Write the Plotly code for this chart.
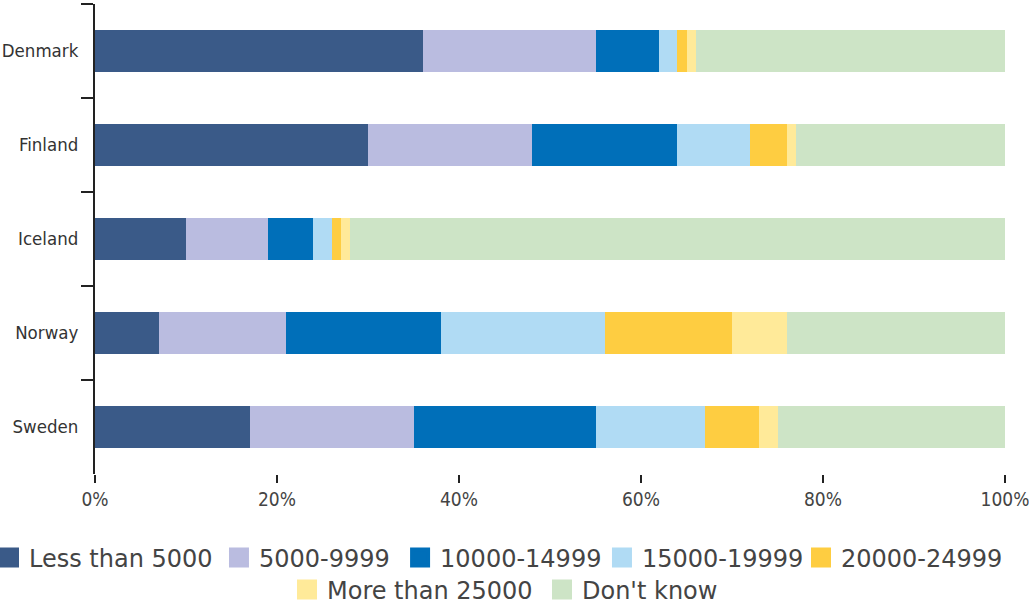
import plotly.graph_objects as go

countries = ["Denmark", "Finland", "Iceland", "Norway", "Sweden"]
series_names = ["Less than 5000", "5000-9999", "10000-14999", "15000-19999",
                "20000-24999", "More than 25000", "Don't know"]
less_than_5000 = [36, 30, 10, 7, 17]
s5000_9999 = [19, 18, 9, 14, 18]
s10000_14999 = [7, 16, 5, 17, 20]
s15000_19999 = [2, 8, 2, 18, 12]
s20000_24999 = [1, 4, 1, 14, 6]
more_than_25000 = [1, 1, 1, 6, 2]
dont_know = [34, 23, 72, 24, 25]
colors = ["#3a5a88", "#babce0", "#006fb9", "#b0dbf4", "#fecd41", "#ffea99", "#cde4c6"]
x_ticks = [0, 20, 40, 60, 80, 100]
x_tick_labels = ["0%", "20%", "40%", "60%", "80%", "100%"]

values = [less_than_5000, s5000_9999, s10000_14999, s15000_19999,
          s20000_24999, more_than_25000, dont_know]

# legend entry placement: box left x (paper fraction for first, container for the rest), row centre y
legend_xref = ["paper", "container", "container", "container", "container", "container", "container"]
legend_x = [-0.1165, 0.2128, 0.3888, 0.5850, 0.7784, 0.2789, 0.5267]
legend_y = [0.0777, 0.0777, 0.0777, 0.0777, 0.0777, 0.0248, 0.0248]

fig = go.Figure()
for name, vals, col in zip(series_names, values, colors):
    fig.add_trace(go.Bar(
        x=vals, y=countries, orientation="h", name=name,
        marker=dict(color=col, line=dict(width=0)), showlegend=False,
    ))

legend_font = dict(family="DejaVu Sans, sans-serif", size=24, color="#444")
layout_legends = {}
for i, (name, col) in enumerate(zip(series_names, colors)):
    key = "legend" if i == 0 else f"legend{i + 1}"
    fig.add_trace(go.Scatter(
        x=[None], y=[None], mode="markers", name=name,
        marker=dict(symbol="square", size=16, color=col, line=dict(width=4, color=col)),
        legend=key,
    ))
    layout_legends[key] = dict(
        orientation="h", xref=legend_xref[i], yref="container",
        x=legend_x[i], xanchor="left", y=legend_y[i], yanchor="middle",
        font=legend_font, itemsizing="trace", bgcolor="rgba(0,0,0,0)",
    )

fig.update_layout(
    barmode="stack",
    bargap=0.56,
    width=1029, height=605,
    margin=dict(l=95, r=24, t=4, b=131, autoexpand=False),
    plot_bgcolor="white", paper_bgcolor="white",
    font=dict(family="DejaVu Sans Condensed, sans-serif", color="#333", size=18.5),
    xaxis=dict(
        range=[0, 100], tickmode="array", tickvals=x_ticks, ticktext=x_tick_labels,
        showgrid=False, zeroline=False, showline=False, automargin=False,
        ticks="outside", ticklen=8, tickwidth=2, tickcolor="#222",
        tickfont=dict(size=19, color="#444"), ticklabeloverflow="allow",
    ),
    yaxis=dict(
        autorange="reversed", showgrid=False, zeroline=False, automargin=False,
        showline=True, linewidth=2, linecolor="#222",
        ticks="outside", tickson="boundaries", ticklen=12, tickwidth=2, tickcolor="#222",
        tickfont=dict(size=18.5, color="#333"), ticklabelstandoff=11,
        ticklabeloverflow="allow",
    ),
    **layout_legends,
)

fig.write_html("out.html", config={"displayModeBar": False},
               post_script="document.body.style.margin='0px';")
